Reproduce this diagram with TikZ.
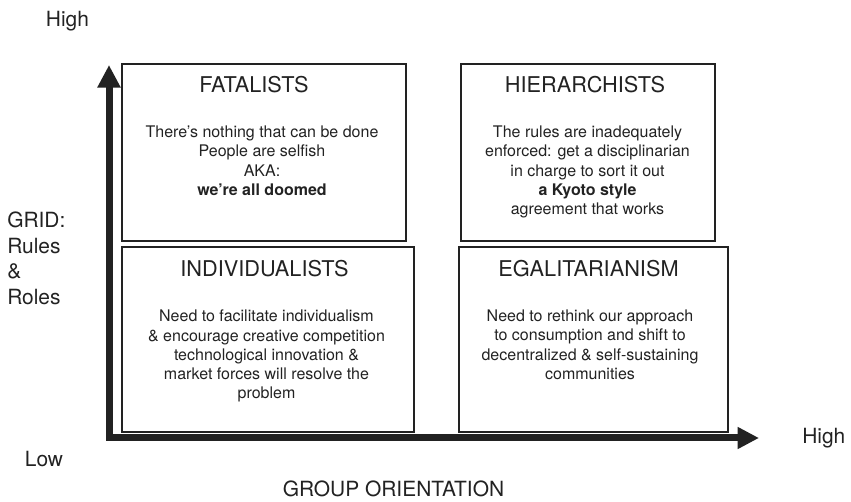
\documentclass[tikz,border=0pt]{standalone}
\usepackage{fontspec}
\setmainfont{TeX Gyre Heros}
\usetikzlibrary{arrows.meta}
\definecolor{ink}{HTML}{222222}
\newcommand*{\axisfont}{\fontsize{15.7}{19.1}\selectfont}
\newcommand*{\headfont}{\fontsize{16.3}{19}\selectfont}
\newcommand*{\quadfont}{\fontsize{12}{14.3}\selectfont}
\tikzset{
  axis/.style={ink, line width=5.25pt, line join=miter,
    {Triangle[length=17pt,width=16.5pt]}-{Triangle[length=16pt,width=15.5pt]}},
  quad/.style={ink, line width=1.3pt},
  head/.style={font=\headfont, inner sep=0pt},
  blurb/.style={font=\quadfont, align=center, inner sep=0pt},
  axislbl/.style={font=\axisfont, inner sep=0pt}
}

\begin{document}
\begin{tikzpicture}[x=0.75pt, y=-0.75pt, text=ink]
		\useasboundingbox (0,0) rectangle (851,502);
		% the two axes share one corner
		\coordinate (O) at (109,438);
		\coordinate (Ytop) at (109,65);
		\coordinate (Xend) at (759,438);
		\draw[axis] (Ytop) -- (O) -- (Xend);
		
		% the four quadrants
		\coordinate (F1) at (122,64);
		\coordinate (F2) at (406,241);
		\coordinate (H1) at (461,64);
		\coordinate (H2) at (715,241);
		\coordinate (I1) at (122,247);
		\coordinate (I2) at (414,432);
		\coordinate (E1) at (459,247);
		\coordinate (E2) at (728,432);
		\draw[quad] (F1) rectangle (F2);
		\draw[quad] (H1) rectangle (H2);
		\draw[quad] (I1) rectangle (I2);
		\draw[quad] (E1) rectangle (E2);
		
		\node[head, anchor=base] (fatal) at (254,93) {FATALISTS};
		\node[blurb, anchor=north] (fataltxt) at (262,126)
		{There’s nothing that can be done\\People are selfish\\AKA:\\\textbf{we’re all doomed}};
		\node[head, anchor=base] (hier) at (585,93) {HIERARCHISTS};
		\node[blurb, anchor=north] (hiertxt) at (587.5,126)
		{The rules are inadequately\\enforced: get a disciplinarian\\in charge to sort it out\\\textbf{a Kyoto style}\\agreement that works};
		\node[head, anchor=base] (indiv) at (264.5,277) {INDIVIDUALISTS};
		\node[blurb, anchor=north] (indivtxt) at (266.5,310)
		{Need to facilitate individualism\\\& encourage creative competition\\technological innovation \&\\market forces will resolve the\\problem};
		\node[head, anchor=base] (egal) at (588.5,277) {EGALITARIANISM};
		\node[blurb, anchor=north] (egaltxt) at (590,310)
		{Need to rethink our approach\\to consumption and shift to\\decentralized \& self-sustaining\\communities};
		
		% axis labels
		\node[axislbl, anchor=base] (yhigh) at (67.5,27) {High};
		\node[axislbl, anchor=north west, align=left] (grid) at (7,212) {GRID:\\Rules\\\&\\Roles};
		\node[axislbl, anchor=base] (low) at (44,467) {Low};
		\node[axislbl, anchor=base west] (xhigh) at (802,444) {High};
		\node[axislbl, anchor=base] (group) at (393.5,497) {GROUP ORIENTATION};
\end{tikzpicture}
\end{document}
